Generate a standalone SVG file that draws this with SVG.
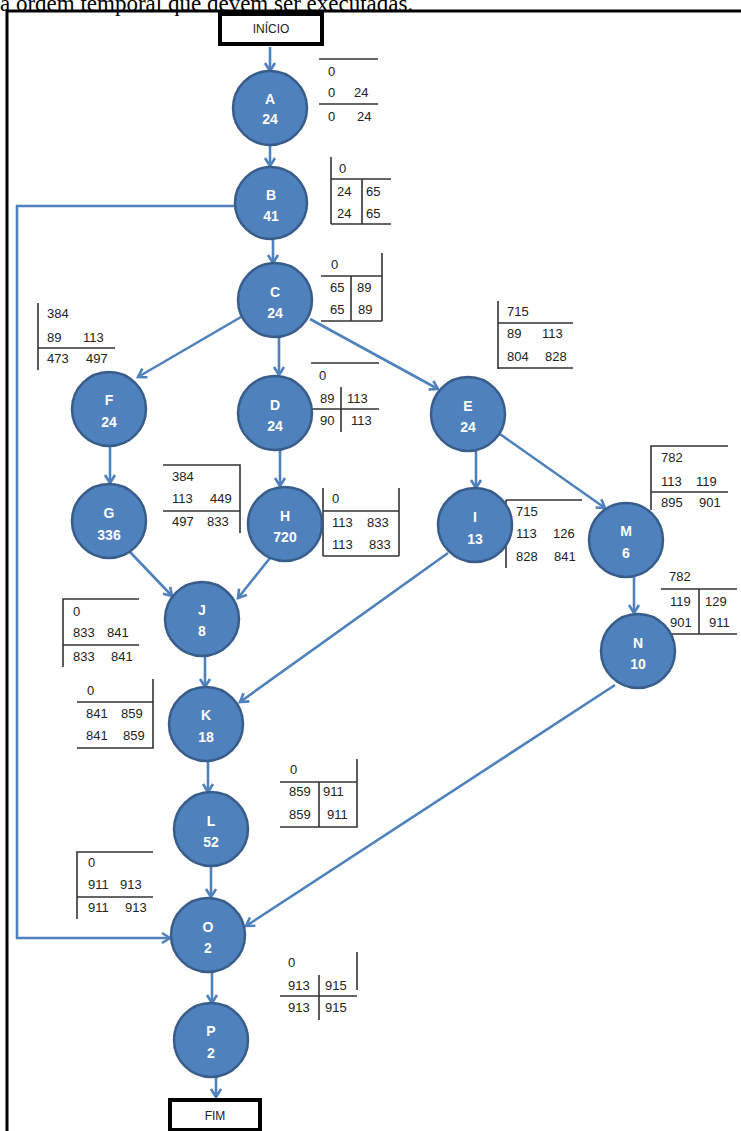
<svg xmlns="http://www.w3.org/2000/svg" width="741" height="1131" viewBox="0 0 741 1131">
<style>
.hdr{font-family:"Liberation Serif",serif;font-size:23px;fill:#000}
.box{fill:#fff;stroke:#000;stroke-width:4}
.boxt{font-family:"Liberation Sans",Arial,sans-serif;font-size:12px;fill:#222;text-anchor:middle}
.nd{fill:#4F81BD;stroke:#385D8A;stroke-width:2.5}
.nt{font-family:"Liberation Sans",Arial,sans-serif;font-size:14px;font-weight:bold;fill:#fff;text-anchor:middle}
.tl{stroke:#333;stroke-width:1.6;fill:none}
.tt{font-family:"Liberation Sans",Arial,sans-serif;font-size:13px;fill:#222}
.e{stroke:#4F81BD;stroke-width:2.6;fill:none;marker-end:url(#ah)}
</style>
<defs>
<marker id="ah" markerUnits="userSpaceOnUse" orient="auto" refX="0" refY="0" markerWidth="12" markerHeight="12" overflow="visible">
<path d="M-8,-5 L0,0 L-8,5" fill="none" stroke="#4F81BD" stroke-width="2.6"/>
</marker>
</defs>
<rect width="741" height="1131" fill="#fff"/>
<text class="hdr" x="0" y="11">a ordem temporal que devem ser executadas.</text>
<path d="M7,1131 V11 H741" fill="none" stroke="#000" stroke-width="3"/>

<g id="tables">
<g id="tA" class="tt"><path class="tl" d="M319,59H378M319,104H378"/><text x="328" y="76">0</text><text x="328" y="97">0</text><text x="354" y="97">24</text><text x="328" y="121">0</text><text x="357" y="121">24</text></g>
<g id="tB" class="tt"><path class="tl" d="M331,157V224M331,179H391M362,179V224M331,224H391"/><text x="339" y="173">0</text><text x="337" y="196">24</text><text x="366" y="196">65</text><text x="337" y="218">24</text><text x="366" y="218">65</text></g>
<g id="tC" class="tt"><path class="tl" d="M382,253V321M321,276H382M351,276V321M321,321H382"/><text x="331" y="269">0</text><text x="330" y="292">65</text><text x="357" y="292">89</text><text x="330" y="314">65</text><text x="358" y="314">89</text></g>
<g id="tF" class="tt"><path class="tl" d="M38,303V370M38,348H115"/><text x="47" y="318">384</text><text x="47" y="342">89</text><text x="83" y="342">113</text><text x="47" y="363">473</text><text x="86" y="363">497</text></g>
<g id="tD" class="tt"><path class="tl" d="M311,363H379M341,387V432M311,409H379"/><text x="319" y="380">0</text><text x="320" y="403">89</text><text x="347" y="403">113</text><text x="320" y="425">90</text><text x="351" y="425">113</text></g>
<g id="tE" class="tt"><path class="tl" d="M498,301V369M498,323H573M498,368H573"/><text x="507" y="316">715</text><text x="507" y="338">89</text><text x="542" y="338">113</text><text x="507" y="361">804</text><text x="545" y="361">828</text></g>
<g id="tG" class="tt"><path class="tl" d="M163,465H240V533M163,511H240"/><text x="172" y="481">384</text><text x="172" y="503">113</text><text x="210" y="503">449</text><text x="172" y="526">497</text><text x="207" y="526">833</text></g>
<g id="tH" class="tt"><path class="tl" d="M323,488V556M399,488V556M323,511H399M323,556H399"/><text x="332" y="503">0</text><text x="332" y="527">113</text><text x="367" y="527">833</text><text x="332" y="549">113</text><text x="369" y="549">833</text></g>
<g id="tI" class="tt"><path class="tl" d="M506,500H582M506,500V568"/><text x="516" y="516">715</text><text x="516" y="538">113</text><text x="553" y="538">126</text><text x="516" y="561">828</text><text x="554" y="561">841</text></g>
<g id="tM" class="tt"><path class="tl" d="M651,510V446H728M651,492H728"/><text x="661" y="462">782</text><text x="661" y="486">113</text><text x="696" y="486">119</text><text x="661" y="507">895</text><text x="699" y="507">901</text></g>
<g id="tN" class="tt"><path class="tl" d="M661,589H737M699,589V634M661,634H737"/><text x="669" y="581">782</text><text x="670" y="606">119</text><text x="705" y="606">129</text><text x="670" y="627">901</text><text x="709" y="627">911</text></g>
<g id="tJ" class="tt"><path class="tl" d="M139,599H63V667M63,645H139"/><text x="73" y="616">0</text><text x="73" y="637">833</text><text x="107" y="637">841</text><text x="73" y="661">833</text><text x="111" y="661">841</text></g>
<g id="tK" class="tt"><path class="tl" d="M153,679V748H77M77,702H153"/><text x="87" y="695">0</text><text x="86" y="718">841</text><text x="121" y="718">859</text><text x="86" y="740">841</text><text x="123" y="740">859</text></g>
<g id="tL" class="tt"><path class="tl" d="M357,759V827H280M280,782H357M319,782V827"/><text x="290" y="774">0</text><text x="289" y="796">859</text><text x="323" y="796">911</text><text x="289" y="819">859</text><text x="327" y="819">911</text></g>
<g id="tO" class="tt"><path class="tl" d="M153,852H77V919M77,897H153"/><text x="88" y="867">0</text><text x="88" y="889">911</text><text x="120" y="889">913</text><text x="88" y="912">911</text><text x="125" y="912">913</text></g>
<g id="tP" class="tt"><path class="tl" d="M357,952V990M280,996H357M319,975V1020"/><text x="288" y="967">0</text><text x="288" y="990">913</text><text x="325" y="990">915</text><text x="288" y="1012">913</text><text x="325" y="1012">915</text></g>
</g>

<g id="connectors">
<path class="e" d="M270,47V71"/>
<path class="e" d="M270,145V166"/>
<path class="e" d="M273,239V263"/>
<path class="e" d="M234,206H17V938H170"/>
<path class="e" d="M241,317L138,377"/>
<path class="e" d="M279,337V375"/>
<path class="e" d="M310,319L438,389"/>
<path class="e" d="M476,450V488"/>
<path class="e" d="M497,432L605,508"/>
<path class="e" d="M634,577V613"/>
<path class="e" d="M110,446V483"/>
<path class="e" d="M280,449V486"/>
<path class="e" d="M130,552L172,596"/>
<path class="e" d="M270,558L238,598"/>
<path class="e" d="M205,656V687"/>
<path class="e" d="M448,553L240,702"/>
<path class="e" d="M208,761V792"/>
<path class="e" d="M211,867V897"/>
<path class="e" d="M615,685L246,926"/>
<path class="e" d="M212,973V1003"/>
<path class="e" d="M216,1078V1097"/>
</g>

<g id="inicio"><rect class="box" x="220" y="14" width="102" height="30"/><text class="boxt" x="271" y="33">INÍCIO</text></g>
<g id="fim"><rect class="box" x="170" y="1100" width="90" height="30"/><text class="boxt" x="215" y="1120">FIM</text></g>

<g id="nA"><circle class="nd" cx="270" cy="108" r="37"/><text class="nt" x="270" y="104">A</text><text class="nt" x="270" y="124">24</text></g>
<g id="nB"><circle class="nd" cx="271" cy="203" r="36"/><text class="nt" x="271" y="200">B</text><text class="nt" x="271" y="221">41</text></g>
<g id="nC"><circle class="nd" cx="275" cy="300" r="37"/><text class="nt" x="275" y="297">C</text><text class="nt" x="275" y="318">24</text></g>
<g id="nD"><circle class="nd" cx="275" cy="413" r="37"/><text class="nt" x="275" y="410">D</text><text class="nt" x="275" y="431">24</text></g>
<g id="nE"><circle class="nd" cx="468" cy="414" r="37"/><text class="nt" x="468" y="411">E</text><text class="nt" x="468" y="432">24</text></g>
<g id="nF"><circle class="nd" cx="109" cy="409" r="37"/><text class="nt" x="109" y="405">F</text><text class="nt" x="109" y="427">24</text></g>
<g id="nG"><circle class="nd" cx="109" cy="521" r="37"/><text class="nt" x="109" y="518">G</text><text class="nt" x="109" y="540">336</text></g>
<g id="nH"><circle class="nd" cx="285" cy="524" r="37"/><text class="nt" x="285" y="521">H</text><text class="nt" x="285" y="542">720</text></g>
<g id="nI"><circle class="nd" cx="475" cy="525" r="37"/><text class="nt" x="475" y="522">I</text><text class="nt" x="475" y="544">13</text></g>
<g id="nM"><circle class="nd" cx="626" cy="540" r="37"/><text class="nt" x="626" y="536">M</text><text class="nt" x="626" y="558">6</text></g>
<g id="nN"><circle class="nd" cx="638" cy="651" r="37"/><text class="nt" x="638" y="648">N</text><text class="nt" x="638" y="669">10</text></g>
<g id="nJ"><circle class="nd" cx="202" cy="619" r="37"/><text class="nt" x="202" y="615">J</text><text class="nt" x="202" y="636">8</text></g>
<g id="nK"><circle class="nd" cx="206" cy="724" r="37"/><text class="nt" x="206" y="720">K</text><text class="nt" x="206" y="742">18</text></g>
<g id="nL"><circle class="nd" cx="211" cy="829" r="37"/><text class="nt" x="211" y="826">L</text><text class="nt" x="211" y="847">52</text></g>
<g id="nO"><circle class="nd" cx="208" cy="935" r="37"/><text class="nt" x="208" y="932">O</text><text class="nt" x="208" y="953">2</text></g>
<g id="nP"><circle class="nd" cx="211" cy="1040" r="37"/><text class="nt" x="211" y="1036">P</text><text class="nt" x="211" y="1058">2</text></g>
</svg>
